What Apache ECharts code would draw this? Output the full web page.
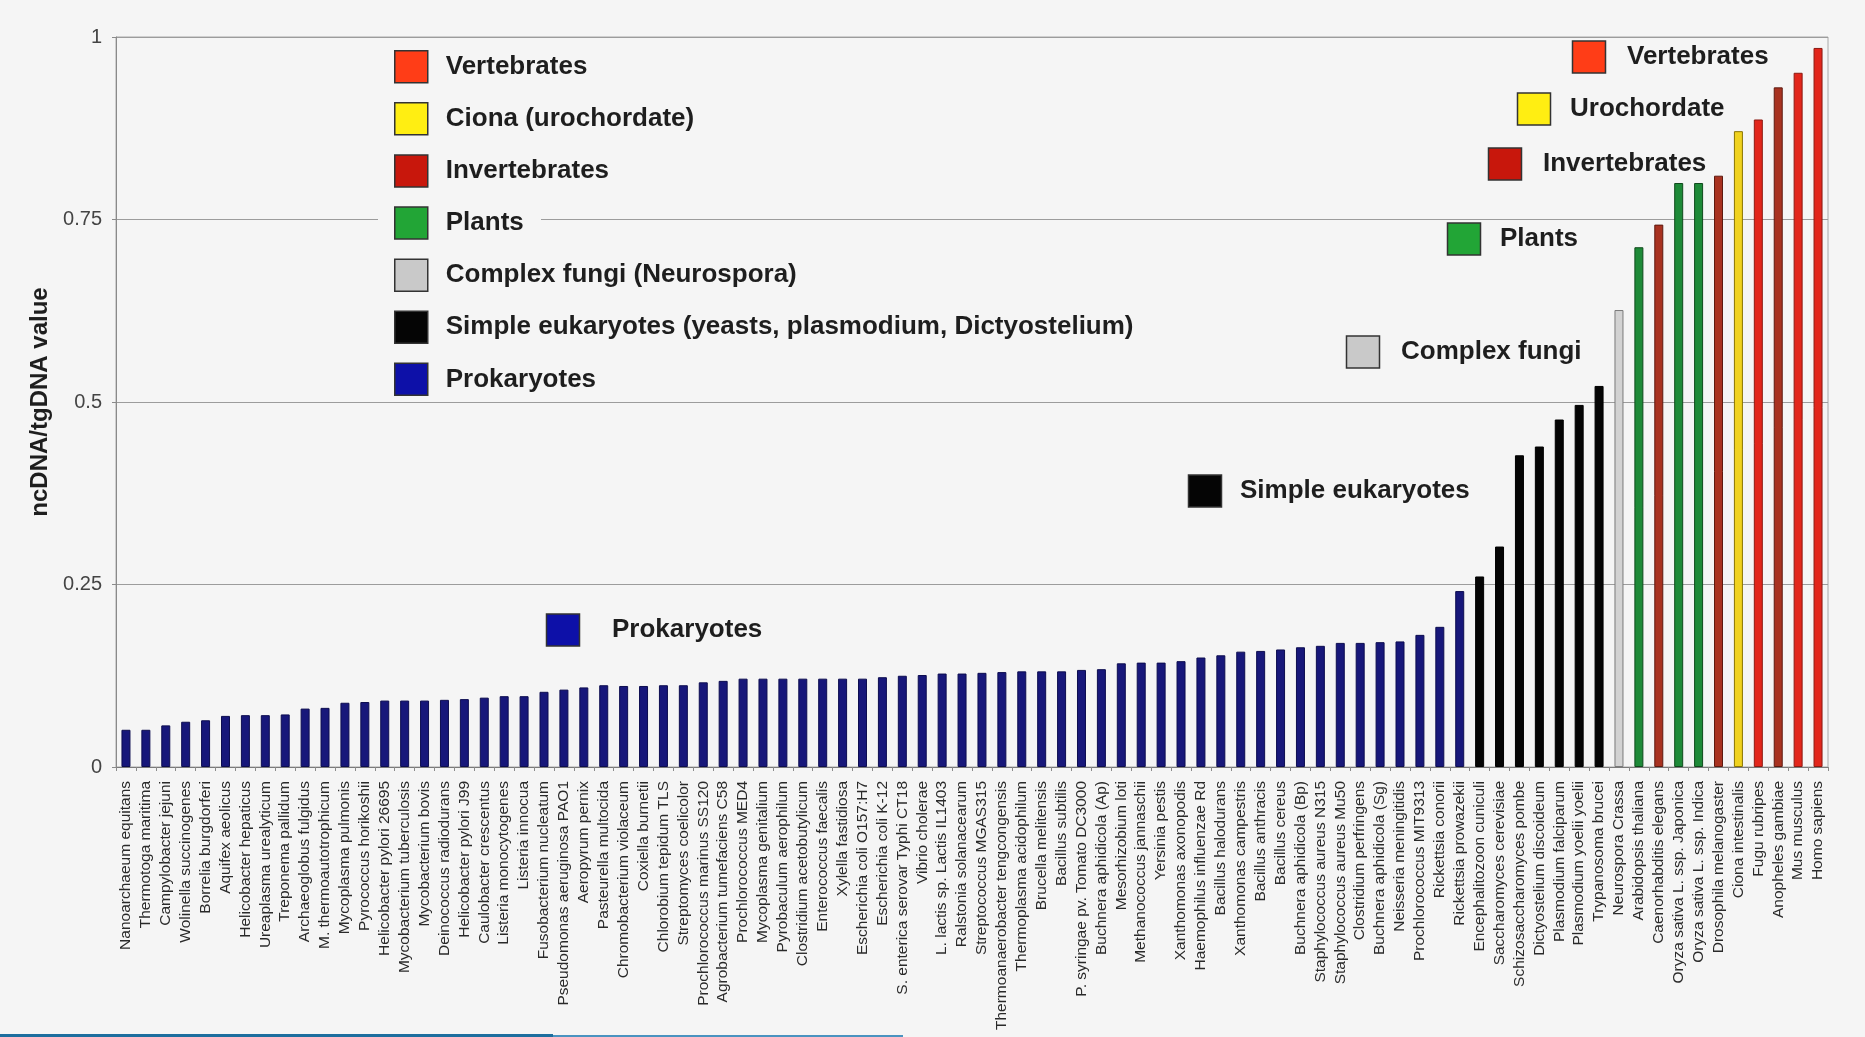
<!DOCTYPE html>
<html>
<head>
<meta charset="utf-8">
<title>ncDNA/tgDNA value across genomes</title>
<script src="https://cdn.jsdelivr.net/npm/echarts@6/dist/echarts.min.js"></script>
<style>
  html, body { margin: 0; padding: 0; background: #f5f5f5; }
  #chart { width: 1865px; height: 1037px; }
</style>
</head>
<body>
<div id="chart"></div>
<script>
// Organisms, ordered by increasing ratio of non-coding to total genomic DNA
const categories = [
  'Nanoarchaeum equitans', 'Thermotoga maritima', 'Campylobacter jejuni', 'Wolinella succinogenes',
  'Borrelia burgdorferi', 'Aquifex aeolicus', 'Helicobacter hepaticus', 'Ureaplasma urealyticum',
  'Treponema pallidum', 'Archaeoglobus fulgidus', 'M. thermoautotrophicum', 'Mycoplasma pulmonis',
  'Pyrococcus horikoshii', 'Helicobacter pylori 26695', 'Mycobacterium tuberculosis', 'Mycobacterium bovis',
  'Deinococcus radiodurans', 'Helicobacter pylori J99', 'Caulobacter crescentus', 'Listeria monocytogenes',
  'Listeria innocua', 'Fusobacterium nucleatum', 'Pseudomonas aeruginosa PAO1', 'Aeropyrum pernix',
  'Pasteurella multocida', 'Chromobacterium violaceum', 'Coxiella burnetii', 'Chlorobium tepidum TLS',
  'Streptomyces coelicolor', 'Prochlorococcus marinus SS120', 'Agrobacterium tumefaciens C58', 'Prochlorococcus MED4',
  'Mycoplasma genitalium', 'Pyrobaculum aerophilum', 'Clostridium acetobutylicum', 'Enterococcus faecalis',
  'Xylella fastidiosa', 'Escherichia coli O157:H7', 'Escherichia coli K-12', 'S. enterica serovar Typhi CT18',
  'Vibrio cholerae', 'L. lactis sp. Lactis IL1403', 'Ralstonia solanacearum', 'Streptococcus MGAS315',
  'Thermoanaerobacter tengcongensis', 'Thermoplasma acidophilum', 'Brucella melitensis', 'Bacillus subtilis',
  'P. syringae pv. Tomato DC3000', 'Buchnera aphidicola (Ap)', 'Mesorhizobium loti', 'Methanococcus jannaschii',
  'Yersinia pestis', 'Xanthomonas axonopodis', 'Haemophilus influenzae Rd', 'Bacillus halodurans',
  'Xanthomonas campestris', 'Bacillus anthracis', 'Bacillus cereus', 'Buchnera aphidicola (Bp)',
  'Staphylococcus aureus N315', 'Staphylococcus aureus Mu50', 'Clostridium perfringens', 'Buchnera aphidicola (Sg)',
  'Neisseria meningitidis', 'Prochlorococcus MIT9313', 'Rickettsia conorii', 'Rickettsia prowazekii',
  'Encephalitozoon cuniculi', 'Saccharomyces cerevisiae', 'Schizosaccharomyces pombe', 'Dictyostelium discoideum',
  'Plasmodium falciparum', 'Plasmodium yoelii yoelii', 'Trypanosoma brucei', 'Neurospora Crassa',
  'Arabidopsis thaliana', 'Caenorhabditis elegans', 'Oryza sativa L. ssp. Japonica', 'Oryza sativa L. ssp. Indica',
  'Drosophila melanogaster', 'Ciona intestinalis', 'Fugu rubripes', 'Anopheles gambiae',
  'Mus musculus', 'Homo sapiens'
];

// ncDNA/tgDNA value for each organism
const values = [
  0.051, 0.051, 0.057, 0.062, 0.064, 0.070, 0.071, 0.071, 0.072, 0.080,
  0.081, 0.088, 0.089, 0.091, 0.091, 0.091, 0.092, 0.093, 0.095, 0.097,
  0.097, 0.103, 0.106, 0.109, 0.112, 0.111, 0.111, 0.112, 0.112, 0.116,
  0.118, 0.121, 0.121, 0.121, 0.121, 0.121, 0.121, 0.121, 0.123, 0.125,
  0.126, 0.128, 0.128, 0.129, 0.130, 0.131, 0.131, 0.131, 0.133, 0.134,
  0.142, 0.143, 0.143, 0.145, 0.150, 0.153, 0.158, 0.159, 0.161, 0.164,
  0.166, 0.170, 0.170, 0.171, 0.172, 0.181, 0.192, 0.241,
  0.261, 0.302, 0.427, 0.439, 0.476, 0.496, 0.522,
  0.626,
  0.712, 0.743, 0.800, 0.800, 0.810, 0.871, 0.887, 0.931, 0.951, 0.985
];

// Taxonomic group of each organism (P prokaryote, S simple eukaryote, F complex fungus,
// Pl plant, I invertebrate, U urochordate, V vertebrate)
const groupOf = [
  'P','P','P','P','P','P','P','P','P','P',
  'P','P','P','P','P','P','P','P','P','P',
  'P','P','P','P','P','P','P','P','P','P',
  'P','P','P','P','P','P','P','P','P','P',
  'P','P','P','P','P','P','P','P','P','P',
  'P','P','P','P','P','P','P','P','P','P',
  'P','P','P','P','P','P','P','P',
  'S','S','S','S','S','S','S',
  'F',
  'Pl','I','Pl','Pl','I','U','V','I','V','V'
];

const groupOrder = ['V', 'U', 'I', 'Pl', 'F', 'S', 'P'];
const groupNames = {
  V: 'Vertebrates',
  U: 'Ciona (urochordate)',
  I: 'Invertebrates',
  Pl: 'Plants',
  F: 'Complex fungi (Neurospora)',
  S: 'Simple eukaryotes (yeasts, plasmodium, Dictyostelium)',
  P: 'Prokaryotes'
};
const yTicks = [0, 0.25, 0.5, 0.75, 1];

// Short captions placed next to each cluster of bars
const calloutText = {
  V: 'Vertebrates', U: 'Urochordate', I: 'Invertebrates', Pl: 'Plants',
  F: 'Complex fungi', S: 'Simple eukaryotes', P: 'Prokaryotes'
};

// ---- styling ----
const FONT = '"Liberation Sans", Arial, sans-serif';
const barFill = { V: '#e2261b', U: '#f0d21e', I: '#a83220', Pl: '#1e8a38', F: '#d2d2d2', S: '#050505', P: '#17177a' };
const barEdge = { V: '#8c1a12', U: '#8a7400', I: '#5e1a10', Pl: '#0f4a1c', F: '#7a7a7a', S: '#000000', P: '#0d0d50' };
const swatch = { V: '#ff3d17', U: '#ffee12', I: '#c8170c', Pl: '#22a536', F: '#c9c9c9', S: '#050505', P: '#0d10a8' };

const series = groupOrder.map(code => ({
  type: 'bar',
  name: groupNames[code],
  data: values.map((v, i) => (groupOf[i] === code ? v : '-')),
  barWidth: 9,
  barGap: '-100%',
  itemStyle: { color: barFill[code], borderColor: barEdge[code], borderWidth: 1 },
  emphasis: { disabled: true }
}));

// caption boxes: swatch + bold text (pixel placement of the annotation layer)
const calloutPos = {
  V: [1589, 57], U: [1534, 109], I: [1505, 164], Pl: [1464, 239],
  F: [1363, 352], S: [1205, 491], P: [563, 630]
};
const calloutTextX = { V: 1627, U: 1570, I: 1543, Pl: 1500, F: 1401, S: 1240, P: 612 };

const graphics = [
  // gap in the 0.75 gridline behind the "Plants" legend row
  { type: 'rect', z: 1, shape: { x: 378, y: 211, width: 163, height: 17 }, style: { fill: '#f5f5f5' } },
  // page strip along the bottom edge
  { type: 'rect', z: 1, shape: { x: 0, y: 1034, width: 553, height: 3 }, style: { fill: '#1d6e9e' } },
  { type: 'rect', z: 1, shape: { x: 553, y: 1035, width: 350, height: 2 }, style: { fill: '#4a93c0' } }
];
groupOrder.forEach(code => {
  const [cx, cy] = calloutPos[code];
  graphics.push({
    type: 'rect', z: 5,
    shape: { x: cx - 16.5, y: cy - 16, width: 33, height: 32 },
    style: { fill: swatch[code], stroke: '#333', lineWidth: 1.5 }
  });
  graphics.push({
    type: 'text', z: 5, x: calloutTextX[code], y: cy,
    style: {
      text: calloutText[code], fill: '#1e1e1e',
      font: 'bold 26px ' + FONT, textVerticalAlign: 'middle', textAlign: 'left'
    }
  });
});

const chart = echarts.init(document.getElementById('chart'), null, { renderer: 'canvas' });
chart.setOption({
  backgroundColor: '#f5f5f5',
  animation: false,
  textStyle: { fontFamily: FONT },
  grid: {
    left: 116, right: 37, top: 37, bottom: 270,
    show: true, borderColor: '#a8a8a8', borderWidth: 1, backgroundColor: 'transparent'
  },
  legend: {
    orient: 'vertical',
    left: 394, top: 50, padding: 0,
    itemWidth: 33, itemHeight: 32, itemGap: 18.6,
    selectedMode: false,
    icon: 'rect',
    textStyle: { fontFamily: FONT, fontSize: 26, fontWeight: 'bold', color: '#1e1e1e', padding: [0, 0, 0, 13] },
    data: groupOrder.map(code => ({
      name: groupNames[code],
      itemStyle: { color: swatch[code], borderColor: '#333', borderWidth: 1.5 }
    }))
  },
  xAxis: {
    type: 'category',
    data: categories,
    boundaryGap: true,
    axisLine: { lineStyle: { color: '#7a7a7a', width: 1 } },
    axisTick: { show: true, length: 4, lineStyle: { color: '#8a8a8a' } },
    axisLabel: {
      interval: 0, rotate: 90, margin: 14,
      fontFamily: FONT, fontSize: 15.5, color: '#2a2a2a',
      padding: [0, 0, 10, 0]
    }
  },
  yAxis: {
    type: 'value',
    min: yTicks[0], max: yTicks[yTicks.length - 1], interval: 0.25,
    name: 'ncDNA/tgDNA value',
    nameLocation: 'middle',
    nameGap: 62,
    nameTextStyle: { fontFamily: FONT, fontSize: 24, fontWeight: 'bold', color: '#1e1e1e' },
    axisLine: { show: true, lineStyle: { color: '#8a8a8a' } },
    axisTick: { show: true, length: 4, lineStyle: { color: '#8a8a8a' } },
    axisLabel: { fontFamily: FONT, fontSize: 20, color: '#444', margin: 14, formatter: v => String(v) },
    splitLine: { show: true, lineStyle: { color: '#9c9c9c', width: 1 } }
  },
  series: series,
  graphic: graphics
});
</script>
</body>
</html>
